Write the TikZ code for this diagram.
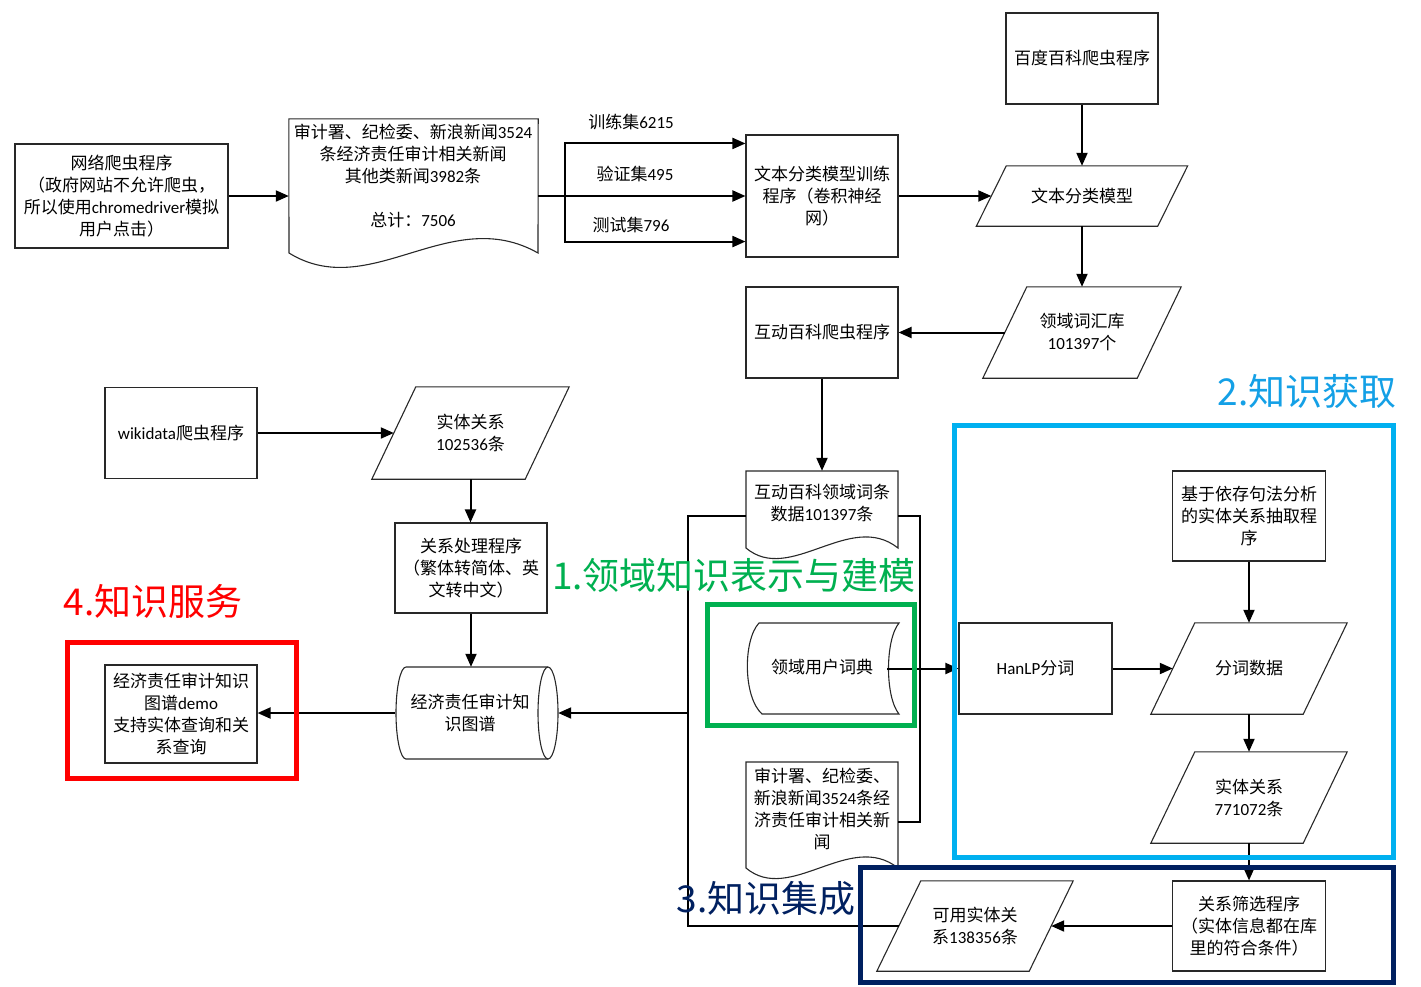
\documentclass[tikz,border=0pt]{standalone}
\usepackage{fontspec}
\setmainfont{Noto Sans CJK SC}
\newfontfamily\latf{Carlito}
\newcommand\nm[1]{{\latf #1}}
\usetikzlibrary{arrows.meta,calc}
\definecolor{cgreen}{RGB}{0,176,80}
\definecolor{cblue}{RGB}{0,176,240}
\definecolor{cbluet}{RGB}{20,160,230}
\definecolor{cnavy}{RGB}{0,32,96}
\definecolor{cred}{RGB}{255,0,0}
\definecolor{cline}{RGB}{40,40,40}
\newcommand\paral[2]{\draw[outl] ($(#1.north west)+(#2,0)$) -- ($(#1.north east)+(#2,0)$) -- ($(#1.south east)-(#2,0)$) -- ($(#1.south west)-(#2,0)$) -- cycle;}
\begin{document}
\begin{tikzpicture}[x=1pt,y=-1pt,
  every node/.style={font=\fontsize{17}{22}\selectfont, align=center, inner sep=0pt},
  outl/.style={draw=cline, line width=1.1pt},
  rbox/.style={outl, fill=white, minimum width=152pt, minimum height=91pt},
  ghost/.style={minimum width=#1},
  ln/.style={line width=2pt, draw=black},
  arr/.style={ln, -{Triangle[length=13pt,width=11pt]}},
  zone/.style={line width=5pt},
  big/.style={font=\fontsize{37}{44}\selectfont},
]
\useasboundingbox (0,0) rectangle (1421,986);

% ---- top row ----
\node[rbox, minimum width=213pt, minimum height=104pt] (A) at (121.5,196)
  {网络爬虫程序\\（政府网站不允许爬虫，\\所以使用\nm{chromedriver}模拟\\用户点击）};
\node[minimum width=249pt, minimum height=154pt] (B) at (413.5,196) {};
\draw[outl] (B.north west) -- (B.north east) -- (538,253) .. controls (450,203) and (370,303) .. (289,253) -- cycle;
\node (Bt) at (413,176) {审计署、纪检委、新浪新闻\nm{3524}\\条经济责任审计相关新闻\\其他类新闻\nm{3982}条\\[22pt]总计：\nm{7506}};
\node[rbox, minimum height=122pt] (C) at (822,196) {文本分类模型训练\\程序（卷积神经\\网）};
\node[rbox] (D) at (1082,58.5) {百度百科爬虫程序};
\node[minimum width=181pt, minimum height=60pt] (E) at (1082,196) {文本分类模型};
\paral{E}{15}
\node[minimum width=154pt, minimum height=91pt] (F) at (1082,332.5) {领域词汇库\\\nm{101397}个};
\paral{F}{22}
\node[rbox] (G) at (822,332.5) {互动百科爬虫程序};

% ---- middle column ----
\node[minimum width=152pt, minimum height=90pt] (H) at (822,516) {};
\draw[outl] (746,471) -- (898,471) -- (898,548) .. controls (850,510) and (790,585) .. (746,548) -- cycle;
\node (Ht) at (822,503) {互动百科领域词条\\数据\nm{101397}条};
\node[minimum width=140pt, minimum height=91pt] (I) at (817,668.5) {};
\draw[outl] (759,623) -- (899,623) .. controls (885,640) and (885,697) .. (899,714) -- (762,714) .. controls (743,697) and (743,640) .. (759,623) -- cycle;
\node (It) at (822,667) {领域用户词典};
\node[minimum width=152pt, minimum height=120pt] (J) at (822,822) {};
\draw[outl] (746,762) -- (898,762) -- (898,868) .. controls (850,830) and (790,905) .. (746,868) -- cycle;
\node (Jt) at (822,808.5) {审计署、纪检委、\\新浪新闻\nm{3524}条经\\济责任审计相关新\\闻};

% ---- right column ----
\node[rbox, minimum width=153pt] (K) at (1035.5,668.5) {\nm{HanLP}分词};
\node[rbox, minimum width=153pt, minimum height=90pt] (L) at (1249,516) {基于依存句法分析\\的实体关系抽取程\\序};
\node[minimum width=152pt, minimum height=91pt] (M) at (1249,668.5) {分词数据};
\paral{M}{22}
\node[minimum width=152pt, minimum height=91pt] (N) at (1249,797.5) {实体关系\\\nm{771072}条};
\paral{N}{22}
\node[rbox, minimum width=153pt, minimum height=90pt] (O) at (1249,926) {关系筛选程序\\（实体信息都在库\\里的符合条件）};
\node[minimum width=152pt, minimum height=90pt] (P) at (975,926) {可用实体关\\系\nm{138356}条};
\paral{P}{22}

% ---- left part ----
\node[rbox] (R) at (181,433) {\nm{wikidata}爬虫程序};
\node[minimum width=153pt, minimum height=92pt] (Q) at (470.5,433) {实体关系\\\nm{102536}条};
\paral{Q}{22}
\node[rbox, minimum height=90pt] (S) at (471,568) {关系处理程序\\（繁体转简体、英\\文转中文）};
\node[minimum width=163pt, minimum height=92pt] (T) at (476.5,713) {};
\draw[outl] (548,667) -- (406,667) arc[start angle=90, end angle=270, x radius=10pt, y radius=46pt] -- (548,759);
\draw[outl] (548,713) ellipse [x radius=10pt, y radius=46pt];
\node (Tt) at (470,712.5) {经济责任审计知\\识图谱};
\node[rbox, minimum height=98pt] (U) at (181,714) {经济责任审计知识\\图谱\nm{demo}\\支持实体查询和关\\系查询};

% ---- connectors ----
\draw[arr] (A.east) -- (B.west);
\draw[arr] (B.east) -- (C.west);
\coordinate (J1) at ($(B.east)+(27,0)$);
\draw[arr] (J1) |- ([yshift=-9pt]C.north west);
\draw[arr] (J1) |- ([yshift=16pt]C.south west);
\node (l1) at (631,122) {训练集\nm{6215}};
\node (l2) at (635,174) {验证集\nm{495}};
\node (l3) at (631,225) {测试集\nm{796}};
\draw[arr] (C.east) -- (E.west);
\draw[arr] (D.south) -- (E.north);
\draw[arr] (E.south) -- (F.north);
\draw[arr] (F.west) -- (G.east);
\draw[arr] (G.south) -- (H.north);
\coordinate (busL) at (688,713);
\draw[ln] (H.west) -| (busL);
\draw[ln] (P.west) -| (busL);
\draw[arr] (busL) -- (T.east);
\draw[ln] (H.east) -- ++(22,0) |- (J.east);
\draw[arr] (I.east) -- (K.west);
\draw[arr] (K.east) -- (M.west);
\draw[arr] (L.south) -- (M.north);
\draw[arr] (M.south) -- (N.north);
\draw[arr] (N.south) -- (O.north);
\draw[arr] (O.west) -- (P.east);
\draw[arr] (R.east) -- (Q.west);
\draw[arr] (Q.south) -- (Q.south |- S.north);
\draw[arr] (S.south) -- (S.south |- T.north);
\draw[arr] (T.west) -- (T.west -| U.east);

% ---- zones ----
\draw[zone, cred] (67,642) rectangle (296,778);
\draw[zone, cgreen] (707,604) rectangle (914,725);
\draw[zone, cblue] (954,425) rectangle (1393,857);
\draw[zone, cnavy] (860,867) rectangle (1393,982);
\node[big, text=cgreen] (Z1) at (734,575) {1.领域知识表示与建模};
\node[big, text=cbluet] (Z2) at (1307,391) {2.知识获取};
\node[big, text=cnavy] (Z3) at (766,898) {3.知识集成};
\node[big, text=cred] (Z4) at (153,601) {4.知识服务};
\end{tikzpicture}
\end{document}
